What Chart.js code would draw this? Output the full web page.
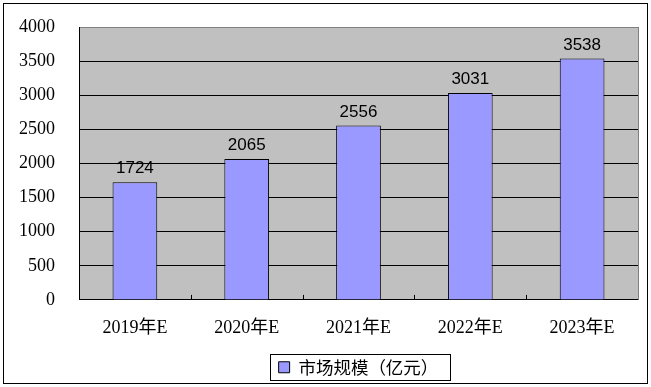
<!DOCTYPE html>
<html>
<head>
<meta charset="utf-8">
<script src="https://cdn.jsdelivr.net/npm/chart.js@4/dist/chart.umd.min.js"></script>
<style>
  html, body { margin: 0; padding: 0; background: #fff; }
  #wrap { width: 651px; height: 387px; }
</style>
</head>
<body>
<div id="wrap"><canvas id="c" width="651" height="387"></canvas></div>
<script>
// 数据
const categories = ['2019年E', '2020年E', '2021年E', '2022年E', '2023年E'];
const marketSize = [1724, 2065, 2556, 3031, 3538];
const seriesName = '市场规模（亿元）';

const serif = '"Liberation Serif", "DejaVu Serif", "Noto Sans CJK SC", serif';
const sans = '"Liberation Sans", Arial, sans-serif';

// 背景、边框、柱顶数值、x轴刻度
const decor = {
  id: 'decor',
  beforeDraw(chart) {
    const { ctx, chartArea: a } = chart;
    ctx.save();
    ctx.fillStyle = '#fff';
    ctx.fillRect(0, 0, chart.width, chart.height);
    ctx.fillStyle = '#c0c0c0';
    ctx.fillRect(a.left, a.top, a.right - a.left, a.bottom - a.top);
    ctx.restore();
  },
  afterDatasetsDraw(chart) {
    const { ctx, chartArea: a } = chart;
    const x = chart.scales.x;
    ctx.save();
    // 右侧边框
    ctx.strokeStyle = '#808080';
    ctx.lineWidth = 1;
    ctx.beginPath();
    ctx.moveTo(a.right + 0.5, a.top);
    ctx.lineTo(a.right + 0.5, a.bottom);
    ctx.stroke();
    // 分类分隔刻度
    ctx.strokeStyle = '#000';
    for (let i = 1; i < categories.length; i++) {
      const px = Math.round((x.getPixelForValue(i - 1) + x.getPixelForValue(i)) / 2) + 0.5;
      ctx.beginPath();
      ctx.moveTo(px, a.bottom);
      ctx.lineTo(px, a.bottom - 5);
      ctx.stroke();
    }
    // 数值标签
    const meta = chart.getDatasetMeta(0);
    ctx.fillStyle = '#000';
    ctx.font = '17px ' + sans;
    ctx.textAlign = 'center';
    ctx.textBaseline = 'bottom';
    meta.data.forEach((bar, i) => {
      ctx.fillText(String(marketSize[i]), bar.x, bar.y - 5);
    });
    ctx.restore();
  },
  afterDraw(chart) {
    const { ctx } = chart;
    ctx.save();
    ctx.strokeStyle = '#000';
    ctx.lineWidth = 1;
    ctx.strokeRect(3.5, 3.5, chart.width - 7, chart.height - 7);
    const lg = chart.legend;
    if (lg && lg.legendHitBoxes && lg.legendHitBoxes.length) {
      const hb = lg.legendHitBoxes[0];
      ctx.strokeRect(Math.round(hb.left) - 8.5, Math.round(hb.top + hb.height / 2) - 12.5, Math.round(hb.width) + 20, 26);
    }
    ctx.restore();
  }
};

new Chart(document.getElementById('c'), {
  type: 'bar',
  data: {
    labels: categories,
    datasets: [{
      label: seriesName,
      data: marketSize,
      backgroundColor: '#9999ff',
      borderColor: '#000',
      borderWidth: 1,
      borderSkipped: 'bottom',
      categoryPercentage: 1,
      barPercentage: 0.4
    }]
  },
  options: {
    responsive: false,
    animation: false,
    layout: { padding: { left: 0, right: 13, top: 27, bottom: 1 } },
    plugins: {
      tooltip: { enabled: false },
      legend: {
        position: 'bottom',
        fullSize: false,
        labels: {
          color: '#000',
          font: { size: 17.5, family: '"Noto Sans CJK SC", sans-serif' },
          boxWidth: 11,
          boxHeight: 11,
          padding: 9,
          generateLabels(chart) {
            return [{
              text: seriesName,
              fillStyle: '#9999ff',
              strokeStyle: '#000',
              lineWidth: 1,
              datasetIndex: 0
            }];
          }
        }
      }
    },
    scales: {
      x: {
        offset: true,
        grid: { display: false },
        border: { color: '#000' },
        ticks: { color: '#000', font: { size: 18, family: serif }, padding: 10 }
      },
      y: {
        min: 0,
        max: 4000,
        ticks: {
          stepSize: 500,
          color: '#000',
          font: { size: 18, family: serif },
          padding: 24,
          callback: (v) => String(v)
        },
        grid: {
          color: (c) => (c.tick && c.tick.value === 4000 ? '#808080' : '#000'),
          drawTicks: false
        },
        border: { color: '#000' },
        afterFit(s) { s.width = 79; s.paddingTop = 0; s.paddingBottom = 0; }
      }
    }
  },
  plugins: [decor]
});
</script>
</body>
</html>
